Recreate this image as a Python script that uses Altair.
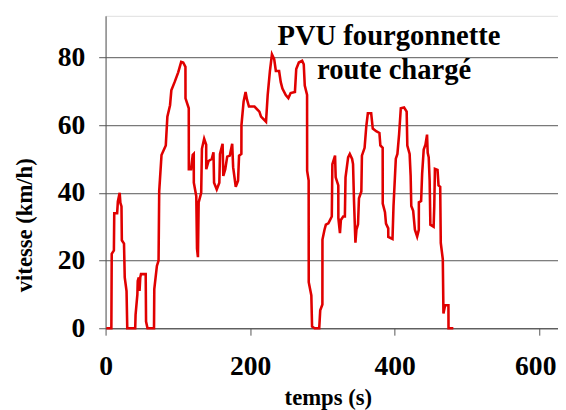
import altair as alt
import pandas as pd

# time (s) and speed (km/h)
temps = [1, 8, 8.5, 11.5, 12, 16, 17, 19.5, 20.5, 22, 22.5, 25.5, 26.5, 29, 30,
         41, 41.5, 44, 44.5, 46, 47, 48, 49, 55.5, 56, 58, 67,
         67.4, 71, 73.3, 74.2, 77.4, 83.3, 85.5, 89.2, 91, 95.5, 100.5, 104.6, 107.4,
         110.5, 110.6, 115.1, 115.2, 118.3, 120.6, 122, 122.1, 125.5, 126.5, 127.8,
         128.8, 132.3, 133.3, 136.4, 139.2, 139.3, 142.4, 146.9, 149.3, 150.1, 153.8,
         157.4, 158.3, 161.9, 162.9, 165.6, 168.3, 171.9, 175.2, 176.5, 180.1, 183.3,
         184.7, 187.9, 188, 191, 193.7, 195.6, 198.4, 206, 212.8, 215.1, 222,
         224.3, 227.4, 230.2, 233.3, 235.6, 240.1, 242.4, 244.7, 249.3, 252.9, 256.1,
         262, 263.8, 267.4, 272, 274.2, 275.6, 278.8, 278.9, 281, 281.1, 284.7, 285.7,
         289.2, 295.6, 297, 300, 300.1, 302.9, 304.8, 308.3, 313, 313.8, 317.5, 318.4,
         322, 322.1, 324.3, 325.6, 328.8, 331.1, 332, 335.6, 337.9, 341.1, 342.4, 343.8,
         345.7, 347.1, 349.3, 350.6, 353.9, 354.7, 358.4, 360.7, 362.9, 367.5, 369.7,
         374.4, 378.9, 380.2, 383.4, 383.5, 386.6, 388, 391.1, 391.2, 397, 398.4,
         401.6, 403.8, 406.1, 408.5, 413, 416.6, 417.5, 420.7, 422.1, 423, 425.6, 428,
         431.1, 433.4, 433.5, 436.6, 438, 440.2, 442.6, 444.8, 445.7, 447.1, 448.4,
         449.4, 453.9, 454.8, 455.7, 459.3, 460.7, 463, 463.8, 466.6, 467.5, 469.8,
         474.4, 474.5, 481.2]
vitesse = [0, 0, 22, 23, 34, 34, 37.5, 40, 37, 36, 26, 25, 15, 11, 0,
           0, 4, 10, 14, 15, 11, 15, 16, 16, 2, 0, 0,
           11.6, 18.4, 20, 40.5, 51.2, 54, 62.5, 65.9, 70.3, 72.7, 75.6, 78.7, 78.5,
           77.2, 67.9, 65, 47, 47, 51.2, 51.5, 43, 39, 23.5, 21,
           37.2, 40, 53, 56, 54.2, 47, 49.4, 50, 52, 43, 41,
           43, 51.5, 54.5, 45, 47, 50.7, 51, 54.5, 47.6, 41.8, 43.6,
           51, 51.5, 60, 67, 69.8, 67.6, 65.5, 65.5, 64, 62.5, 61,
           68.9, 76, 80.9, 79.5, 76, 76, 72.7, 70.8, 68.9, 68, 69.5,
           69.8, 76.6, 78.5, 79, 78, 71.7, 68.9, 46.5, 43.6, 13.6, 9.7, 0.5,
           0, 0, 5.3, 7, 26.2, 29.1, 30.6, 31, 33, 48.5, 51, 44.6,
           42.2, 32.5, 28.1, 32, 33, 33, 44.6, 50.5, 51.5, 50, 48.5, 37.2,
           25.3, 29.1, 30.7, 38.4, 40.4, 51, 53.3, 59.6, 63.5, 63.5, 59,
           58.2, 57.7, 54, 53.3, 36.8, 34.3, 30.9, 29.5, 27, 26.4, 36.1,
           50.1, 51.5, 57.2, 65, 65.2, 64, 54, 51.5, 45.1, 36.1, 34.7, 29.1,
           27.1, 29.1, 37.2, 37.6, 45.6, 52.8, 54.2, 57.2, 51.8, 50.5, 43.6,
           30.6, 30, 36.1, 47.1, 46.8, 42.2, 41.8, 25.2, 20.4, 4.4, 6.8,
           6.8, 0, 0]

x_ticks = [0, 200, 400, 600]
y_ticks = [0, 20, 40, 60, 80]
titre = ["PVU fourgonnette", "route chargé"]

df = pd.DataFrame({"temps": temps, "vitesse": vitesse, "ordre": list(range(len(temps)))})

FONT = "Liberation Serif"

line = alt.Chart(df).mark_line(color="#e00000", strokeWidth=2.6).encode(
    x=alt.X("temps:Q",
            scale=alt.Scale(domain=[0, 626], nice=False, zero=False),
            axis=alt.Axis(values=x_ticks, title="temps (s)", grid=False,
                          tickSize=7, labelPadding=40, labelBaseline="alphabetic",
                          labelFont=FONT, labelFontSize=28, labelFontWeight="bold",
                          labelColor="black", domainColor="#555", tickColor="#555",
                          labelOffset={"condition": {"test": "datum.value == 600", "value": -4},
                                       "value": 0},
                          titleFont=FONT, titleFontSize=23, titleFontWeight="bold",
                          titleColor="black", titleX=225.5, titleY=77.5,
                          titleAlign="center", titleBaseline="alphabetic",
                          labelFlush=False, labelOverlap=False)),
    y=alt.Y("vitesse:Q",
            scale=alt.Scale(domain=[0, 92.3], nice=False),
            axis=alt.Axis(values=y_ticks, title="vitesse (km/h)", grid=True,
                          gridColor="#555", gridWidth=1,
                          tickSize=7, labelPadding=14,
                          labelFont=FONT, labelFontSize=28, labelFontWeight="bold",
                          labelColor="black", domainColor="#555", tickColor="#555",
                          titleFont=FONT, titleFontSize=23, titleFontWeight="bold",
                          titleColor="black", titleX=-75.3, titleY=212,
                          titleAlign="center", titleBaseline="alphabetic",
                          labelFlush=False, labelOverlap=False)),
    order="ordre:Q",
)

t1 = alt.Chart(pd.DataFrame({"t": [titre[0]]})).mark_text(
    font=FONT, fontSize=29, fontWeight="bold", color="black",
    align="center", baseline="alphabetic"
).encode(text="t:N", x=alt.value(287.5), y=alt.value(29.3))

t2 = alt.Chart(pd.DataFrame({"t": [titre[1]]})).mark_text(
    font=FONT, fontSize=29, fontWeight="bold", color="black",
    align="center", baseline="alphabetic"
).encode(text="t:N", x=alt.value(292.7), y=alt.value(63.7))

chart = alt.layer(line, t1, t2).properties(
    width=459, height=317,
    autosize=alt.AutoSizeParams(type="none"),
    padding={"left": 99, "top": 5, "right": 0, "bottom": 80},
).configure_view(stroke=None).configure(background="white")

chart.save("out.html", embed_options={"renderer": "svg", "actions": False})
